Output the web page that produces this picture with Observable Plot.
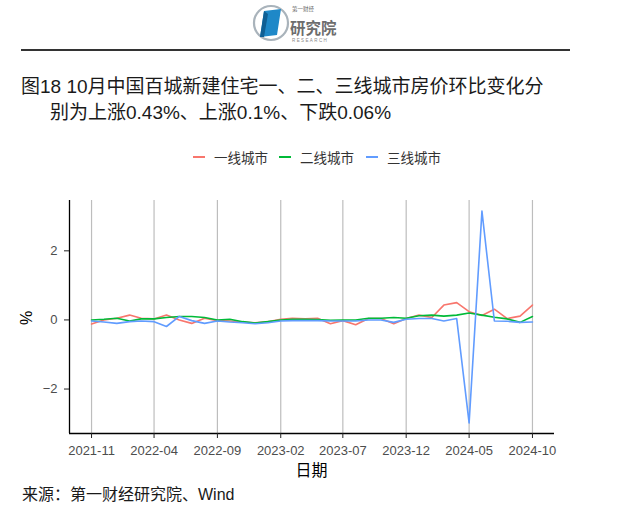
<!DOCTYPE html>
<html><head><meta charset="utf-8">
<script src="https://cdn.jsdelivr.net/npm/d3@7"></script>
<script src="https://cdn.jsdelivr.net/npm/@observablehq/plot@0.6"></script>
<style>
body{margin:0;background:#fff;width:640px;height:516px;overflow:hidden;position:relative;font-family:"Liberation Sans","Noto Sans CJK SC",sans-serif;}
.abs{position:absolute;white-space:nowrap;}
#rule{position:absolute;left:21px;top:49px;width:549px;height:1.5px;background:#333;}
#t1{left:21px;top:74px;font-size:19px;line-height:26px;color:#1a1a1a;}
#t2{left:50px;top:100px;font-size:19px;line-height:26px;color:#1a1a1a;}
#legend{left:0;top:148px;width:640px;height:18px;}
.li{position:absolute;top:0;height:18px;display:flex;align-items:center;font-size:13.5px;color:#333;}
.sw{width:12px;height:2px;margin-right:9px;}
#chart{left:0;top:170px;}
#xlab{left:0;width:623px;text-align:center;top:461px;font-size:16px;line-height:20px;color:#000;}
#ylab{left:20px;top:308px;font-size:16px;line-height:20px;transform:rotate(-90deg);color:#000;}
#cap{left:22px;top:485px;font-size:16px;line-height:20px;color:#1a1a1a;}
</style></head><body>
<svg class="abs" style="left:250px;top:2px" width="100" height="44" viewBox="0 0 100 44">
  <circle cx="21" cy="21" r="17" fill="#fff" stroke="#a9b3bb" stroke-width="2.2"/>
  <polygon points="14,9 31,7 27,33 10,35" fill="#1e88c8"/>
  <polygon points="14,9 18,12 14,35 10,35" fill="#0f5f94"/>
  <text x="42" y="9" font-size="5.5" fill="#666" font-family="Noto Sans CJK SC">第一财经</text>
  <text x="40" y="32" font-size="15.5" fill="#6d6d6d" font-family="Noto Sans CJK SC" font-weight="bold">研究院</text>
  <text x="42" y="40" font-size="4.5" fill="#888" letter-spacing="1.4" font-family="Liberation Sans">RESEARCH</text>
</svg>
<div id="rule"></div>
<div id="t1" class="abs">图18 10月中国百城新建住宅一、二、三线城市房价环比变化分</div>
<div id="t2" class="abs">别为上涨0.43%、上涨0.1%、下跌0.06%</div>
<div id="legend" class="abs"></div>
<div id="chart" class="abs"></div>
<div id="xlab" class="abs">日期</div>
<div id="ylab" class="abs">%</div>
<div id="cap" class="abs">来源：第一财经研究院、Wind</div>
<script>
const months = ["2021-11","2021-12","2022-01","2022-02","2022-03","2022-04","2022-05","2022-06","2022-07","2022-08","2022-09","2022-10","2022-11","2022-12","2023-01","2023-02","2023-03","2023-04","2023-05","2023-06","2023-07","2023-08","2023-09","2023-10","2023-11","2023-12","2024-01","2024-02","2024-03","2024-04","2024-05","2024-06","2024-07","2024-08","2024-09","2024-10"];
const seriesNames = ["一线城市","二线城市","三线城市"];
const seriesColors = ["#F8766D","#00BA38","#619CFF"];
const tier1 = [-0.12,0.00,0.05,0.14,0.05,0.03,0.14,0.00,-0.10,0.05,-0.02,-0.03,-0.06,-0.08,-0.05,0.02,0.05,0.03,0.05,-0.11,-0.02,-0.14,0.04,0.04,-0.11,0.04,0.14,0.07,0.43,0.50,0.24,0.13,0.31,0.04,0.11,0.43];
const tier2 = [0.00,0.02,0.05,-0.03,0.03,0.03,0.07,0.10,0.10,0.07,0.00,0.02,-0.05,-0.09,-0.05,0.00,0.02,0.02,0.01,-0.01,0.00,0.00,0.05,0.05,0.07,0.05,0.12,0.14,0.11,0.14,0.20,0.14,0.08,0.03,-0.07,0.10];
const tier3 = [-0.03,-0.06,-0.10,-0.05,-0.03,-0.05,-0.19,0.10,-0.02,-0.10,-0.03,-0.06,-0.08,-0.11,-0.08,-0.03,-0.02,-0.02,-0.02,-0.03,-0.03,-0.03,0.00,0.00,-0.07,0.02,0.04,0.04,-0.03,0.04,-2.98,3.15,-0.03,-0.04,-0.07,-0.06];
const xTickLabels = ["2021-11","2022-04","2022-09","2023-02","2023-07","2023-12","2024-05","2024-10"];
const yTicks = [-2,0,2];

const parse = d3.utcParse("%Y-%m");
const values = [tier1, tier2, tier3];
const rows = [];
seriesNames.forEach((s, k) => months.forEach((m, i) => rows.push({date: parse(m), value: values[k][i], series: s})));

const dates = months.map(parse);
const t0 = +dates[0], t1 = +dates[dates.length - 1];
const xDom = [new Date(t0 - 0.05 * (t1 - t0)), new Date(t1 + 0.05 * (t1 - t0))];
const allV = values.flat();
const vmin = d3.min(allV), vmax = d3.max(allV);
const yDom = [vmin - 0.05 * (vmax - vmin), vmax + 0.05 * (vmax - vmin)];
const xTicks = xTickLabels.map(parse);

const chart = Plot.plot({
  width: 640, height: 310,
  marginTop: 30, marginBottom: 47, marginLeft: 69, marginRight: 86,
  style: {fontFamily: "Liberation Sans, Noto Sans CJK SC, sans-serif", background: "white", overflow: "visible"},
  x: {type: "utc", domain: xDom},
  y: {domain: yDom},
  color: {domain: seriesNames, range: seriesColors},
  marks: [
    Plot.gridX(xTicks, {stroke: "#bdbdbd", strokeOpacity: 1, strokeWidth: 1.2}),
    Plot.lineY(rows, {x: "date", y: "value", z: "series", stroke: "series", strokeWidth: 1.6}),
    Plot.ruleX([xDom[0]], {stroke: "#000", strokeWidth: 1.3}),
    Plot.ruleY([yDom[0]], {stroke: "#000", strokeWidth: 1.3}),
    Plot.axisX(xTicks, {tickFormat: d3.utcFormat("%Y-%m"), tickSize: 5, tickPadding: 7, fontSize: 13, color: "#4d4d4d", stroke: "#222", label: null}),
    Plot.axisY(yTicks, {tickSize: 5, tickPadding: 7, fontSize: 13, color: "#4d4d4d", stroke: "#222", label: null})
  ]
});
document.getElementById("chart").appendChild(chart);

const legendX = [193, 279, 366];
const lg = document.getElementById("legend");
seriesNames.forEach((s, k) => {
  const it = document.createElement("div");
  it.className = "li";
  it.style.left = legendX[k] + "px";
  it.innerHTML = `<span class="sw" style="background:${seriesColors[k]}"></span><span>${s}</span>`;
  lg.appendChild(it);
});
</script>
</body></html>
